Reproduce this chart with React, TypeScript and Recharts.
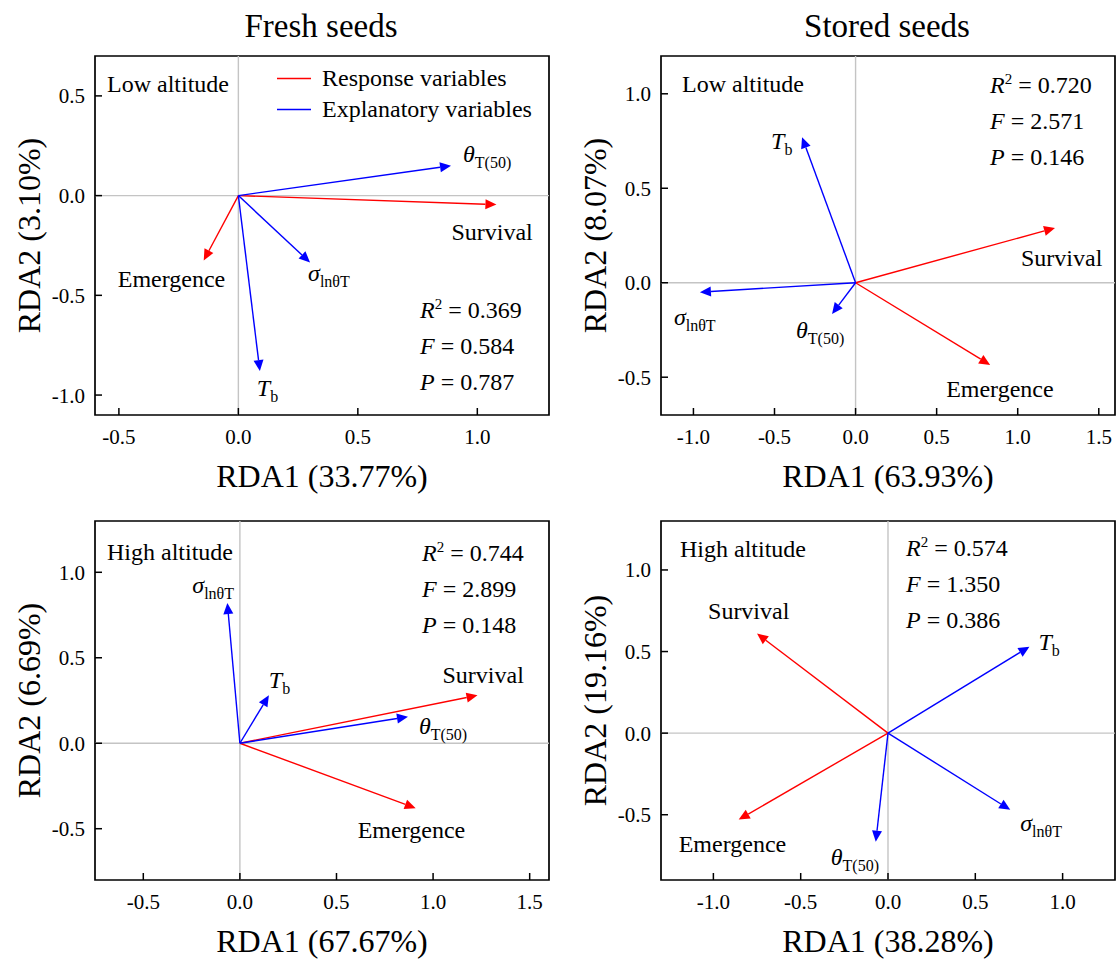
import React from "react";
import {
  ScatterChart,
  Scatter,
  XAxis,
  YAxis,
  ReferenceLine,
  ReferenceArea,
  Legend,
  Label,
} from "recharts";

const FONT = "'Liberation Serif', 'Times New Roman', Times, serif";
const RED = "#ff0000";
const BLUE = "#0000ff";
const GRID = "#c4c4c4";

// order of the arrows in every panel
const variables = ["Survival", "Emergence", "Tb", "sigma", "theta"];
const isResponse = [true, true, false, false, false];

const freshLowRDA1 = [1.08, -0.145, 0.09, 0.3, 0.89];
const freshLowRDA2 = [-0.045, -0.325, -0.88, -0.335, 0.15];
const storedLowRDA1 = [1.23, 0.83, -0.33, -0.96, -0.145];
const storedLowRDA2 = [0.29, -0.435, 0.77, -0.05, -0.165];
const freshHighRDA1 = [1.23, 0.91, 0.15, -0.065, 0.87];
const freshHighRDA2 = [0.28, -0.38, 0.28, 0.82, 0.155];
const storedHighRDA1 = [-0.75, -0.855, 0.81, 0.7, -0.07];
const storedHighRDA2 = [0.61, -0.53, 0.53, -0.47, -0.665];

const rda1Pct = [33.77, 63.93, 67.67, 38.28];
const rda2Pct = [3.1, 8.07, 6.69, 19.16];
const r2Values = [0.369, 0.72, 0.744, 0.574];
const fValues = [0.584, 2.571, 2.899, 1.35];
const pValues = [0.787, 0.146, 0.148, 0.386];
const sites = ["Low altitude", "Low altitude", "High altitude", "High altitude"];
const columnTitles = ["Fresh seeds", "Stored seeds"];
const legendLabels = ["Response variables", "Explanatory variables"];

const freshLowXTicks = [-0.5, 0, 0.5, 1.0];
const freshLowYTicks = [-1.0, -0.5, 0, 0.5];
const storedLowXTicks = [-1.0, -0.5, 0, 0.5, 1.0, 1.5];
const storedLowYTicks = [-0.5, 0, 0.5, 1.0];
const freshHighXTicks = [-0.5, 0, 0.5, 1.0, 1.5];
const freshHighYTicks = [-0.5, 0, 0.5, 1.0];
const storedHighXTicks = [-1.0, -0.5, 0, 0.5, 1.0];
const storedHighYTicks = [-0.5, 0, 0.5, 1.0];

// chart geometry
const Y_AXIS_W = 95;
const X_AXIS_H = 90;
const TOP = 16;
const CHART_W = 550;
const CHART_H = 465;

const panels = [
  {
    rda1: freshLowRDA1,
    rda2: freshLowRDA2,
    xDomain: [-0.6, 1.3],
    yDomain: [-1.1, 0.7],
    xTicks: freshLowXTicks,
    yTicks: freshLowYTicks,
    left: 0,
    top: 40,
    sitePos: [12, 36],
    statPos: [325, 262],
    labelOffsets: [[-45, 27], [-86, 19], [-3, 17], [-2, 11], [12, -12]],
    legend: true,
  },
  {
    rda1: storedLowRDA1,
    rda2: storedLowRDA2,
    xDomain: [-1.2, 1.6],
    yDomain: [-0.7, 1.2],
    xTicks: storedLowXTicks,
    yTicks: storedLowYTicks,
    left: 566,
    top: 40,
    sitePos: [21, 36],
    statPos: [329, 37],
    labelOffsets: [[-34, 30], [-44, 24], [-31, 4], [-26, 25], [-36, 16]],
    legend: false,
  },
  {
    rda1: freshHighRDA1,
    rda2: freshHighRDA2,
    xDomain: [-0.75, 1.6],
    yDomain: [-0.8, 1.3],
    xTicks: freshHighXTicks,
    yTicks: freshHighYTicks,
    left: 0,
    top: 505,
    sitePos: [12, 39],
    statPos: [327, 40],
    labelOffsets: [[-35, -20], [-58, 22], [0, -15], [-35, -18], [11, 9]],
    legend: false,
  },
  {
    rda1: storedHighRDA1,
    rda2: storedHighRDA2,
    xDomain: [-1.3, 1.3],
    yDomain: [-0.9, 1.3],
    xTicks: storedHighXTicks,
    yTicks: storedHighYTicks,
    left: 566,
    top: 505,
    sitePos: [19, 36],
    statPos: [245, 35],
    labelOffsets: [[-49, -23], [-60, 24], [9, -5], [10, 13], [-45, 15]],
    legend: false,
  },
];

const Arrow = (props: any) => {
  const { x1, y1, x2, y2, stroke } = props;
  const dx = x2 - x1;
  const dy = y2 - y1;
  const len = Math.hypot(dx, dy) || 1;
  const ux = dx / len;
  const uy = dy / len;
  const head = 11;
  const half = 5;
  const bx = x2 - ux * head;
  const by = y2 - uy * head;
  const pts = `${x2},${y2} ${bx - uy * half},${by + ux * half} ${bx + uy * half},${by - ux * half}`;
  return (
    <g>
      <line x1={x1} y1={y1} x2={bx} y2={by} stroke={stroke} strokeWidth={1.4} />
      <polygon points={pts} fill={stroke} />
    </g>
  );
};

const VarText = ({ name, x, y }: { name: string; x: number; y: number }) => {
  const sub = (s: string) => (
    <tspan fontSize={16} dy={6}>
      {s}
    </tspan>
  );
  let body: React.ReactNode = name;
  if (name === "Tb") body = [<tspan key="a" fontStyle="italic">T</tspan>, <React.Fragment key="b">{sub("b")}</React.Fragment>];
  if (name === "sigma") body = [<tspan key="a" fontStyle="italic">σ</tspan>, <React.Fragment key="b">{sub("lnθT")}</React.Fragment>];
  if (name === "theta") body = [<tspan key="a" fontStyle="italic">θ</tspan>, <React.Fragment key="b">{sub("T(50)")}</React.Fragment>];
  return (
    <text x={x} y={y} fontSize={24} fontFamily={FONT} fill="#000">
      {body}
    </text>
  );
};

const LegendBox = () => (
  <div style={{ fontFamily: FONT, fontSize: 24, color: "#000" }}>
    {legendLabels.map((label, i) => (
      <div key={label} style={{ height: 31, lineHeight: "31px", whiteSpace: "nowrap" }}>
        <svg width={34} height={31} style={{ verticalAlign: "top", marginRight: 11 }}>
          <line x1={0} x2={34} y1={15.5} y2={15.5} stroke={i === 0 ? RED : BLUE} strokeWidth={1.5} />
        </svg>
        <span style={{ fontFamily: FONT }}>{label}</span>
      </div>
    ))}
  </div>
);

const tickStyle = { fontSize: 21, fill: "#000", fontFamily: FONT };

const Panel = ({ p, idx }: { p: (typeof panels)[number]; idx: number }) => {
  const data = variables.map((name, i) => ({ x: p.rda1[i], y: p.rda2[i], name, i }));
  const [sx, sy] = p.sitePos;
  const [tx, ty] = p.statPos;
  return (
    <div style={{ position: "absolute", left: p.left, top: p.top, width: CHART_W, height: CHART_H }}>
      <ScatterChart
        width={CHART_W}
        height={CHART_H}
        margin={{ top: TOP, right: 1, bottom: 0, left: 0 }}
        style={{ fontFamily: FONT }}
      >
        <XAxis
          type="number"
          dataKey="x"
          domain={p.xDomain}
          ticks={p.xTicks}
          interval={0}
          allowDataOverflow
          height={X_AXIS_H}
          axisLine={false}
          tickSize={-7}
          tickMargin={21}
          tickLine={{ stroke: "#000", strokeWidth: 1.5 }}
          tick={tickStyle}
          tickFormatter={(v: number) => v.toFixed(1)}
        >
          <Label
            value={`RDA1 (${rda1Pct[idx].toFixed(2)}%)`}
            position="insideBottom"
            offset={18}
            fontSize={32}
            fontFamily={FONT}
            fill="#000"
          />
        </XAxis>
        <YAxis
          type="number"
          dataKey="y"
          domain={p.yDomain}
          ticks={p.yTicks}
          interval={0}
          allowDataOverflow
          width={Y_AXIS_W}
          axisLine={false}
          tickSize={-7}
          tickMargin={17}
          tickLine={{ stroke: "#000", strokeWidth: 1.5 }}
          tick={tickStyle}
          tickFormatter={(v: number) => v.toFixed(1)}
        >
          <Label
            value={`RDA2 (${rda2Pct[idx].toFixed(2)}%)`}
            position="center"
            angle={-90}
            dx={-19}
            fontSize={32}
            fontFamily={FONT}
            fill="#000"
          />
        </YAxis>
        <ReferenceLine x={0} stroke={GRID} strokeWidth={1.4} />
        <ReferenceLine y={0} stroke={GRID} strokeWidth={1.4} />
        {data.map((d) => (
          <ReferenceLine
            key={d.name}
            segment={[{ x: 0, y: 0 }, { x: d.x, y: d.y }]}
            stroke={isResponse[d.i] ? RED : BLUE}
            ifOverflow="visible"
            shape={Arrow}
          />
        ))}
        <Scatter
          data={data}
          isAnimationActive={false}
          shape={(props: any) => {
            const [dx, dy] = p.labelOffsets[props.payload.i];
            return <VarText name={props.payload.name} x={props.cx + dx} y={props.cy + dy + 8} />;
          }}
        />
        <ReferenceArea
          x1={p.xDomain[0]}
          x2={p.xDomain[1]}
          y1={p.yDomain[0]}
          y2={p.yDomain[1]}
          fill="none"
          fillOpacity={0}
          stroke="#000"
          strokeWidth={1.7}
          ifOverflow="visible"
        />
        {p.legend && (
          <Legend
            layout="vertical"
            align="center"
            verticalAlign="middle"
            wrapperStyle={{ left: 277, top: 23, width: 270 }}
            content={() => <LegendBox />}
          />
        )}
      </ScatterChart>
      <svg
        width={CHART_W}
        height={CHART_H}
        style={{ position: "absolute", left: 0, top: 0, pointerEvents: "none" }}
      >
        <g transform={`translate(${Y_AXIS_W},${TOP})`} fontSize={24} fontFamily={FONT} fill="#000">
          <text x={sx} y={sy}>{sites[idx]}</text>
          <text x={tx} y={ty}>
            <tspan fontStyle="italic">R</tspan>
            <tspan fontSize={15} dy={-9}>2</tspan>
            <tspan dy={9}>{` = ${r2Values[idx].toFixed(3)}`}</tspan>
          </text>
          <text x={tx} y={ty + 36}>
            <tspan fontStyle="italic">F</tspan>
            <tspan>{` = ${fValues[idx].toFixed(3)}`}</tspan>
          </text>
          <text x={tx} y={ty + 72}>
            <tspan fontStyle="italic">P</tspan>
            <tspan>{` = ${pValues[idx].toFixed(3)}`}</tspan>
          </text>
        </g>
      </svg>
    </div>
  );
};

export default function App() {
  return (
    <div
      style={{
        position: "absolute",
        left: 0,
        top: 0,
        width: 1116,
        height: 959,
        overflow: "hidden",
        background: "#fff",
        fontFamily: FONT,
      }}
    >
      <svg width={1116} height={50} style={{ position: "absolute", left: 0, top: 0 }}>
        <text x={321} y={37} textAnchor="middle" fontSize={33} fontFamily={FONT} fill="#000">
          {columnTitles[0]}
        </text>
        <text x={887} y={37} textAnchor="middle" fontSize={33} fontFamily={FONT} fill="#000">
          {columnTitles[1]}
        </text>
      </svg>
      {panels.map((p, i) => (
        <Panel key={i} p={p} idx={i} />
      ))}
    </div>
  );
}
